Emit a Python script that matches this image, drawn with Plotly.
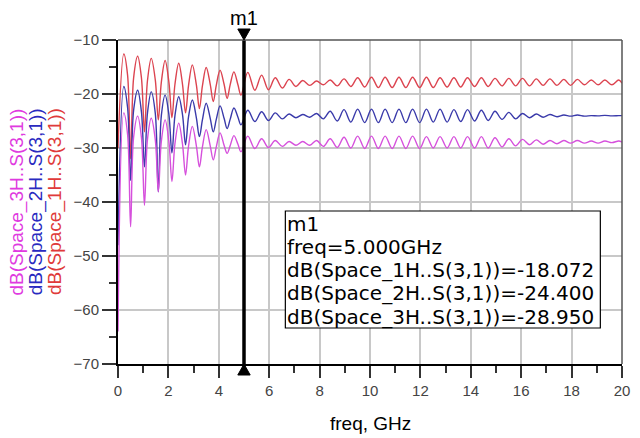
import plotly.graph_objects as go

# frequencies (GHz) of the points (peaks, shoulders, dips), shared by all traces
freq = [0.0, 0.23, 0.38, 0.50, 0.62, 0.78, 0.93, 1.05, 1.17, 1.32, 1.48, 1.60, 1.72, 1.87,
        2.02, 2.14, 2.26, 2.41, 2.56, 2.68, 2.80, 2.95, 3.11, 3.23, 3.35, 3.50, 3.66, 3.78,
        3.90, 4.05, 4.21, 4.33, 4.45, 4.60, 4.76, 4.88,
        5.15, 5.43, 5.70, 5.97, 6.24, 6.52, 6.79, 7.06, 7.33, 7.61, 7.88, 8.15, 8.42, 8.70,
        8.97, 9.24, 9.51, 9.79, 10.06, 10.33, 10.60, 10.88, 11.15, 11.42, 11.69, 11.97, 12.24,
        12.51, 12.78, 13.06, 13.33, 13.60, 13.87, 14.15, 14.42, 14.69, 14.96, 15.24, 15.51,
        15.78, 16.05, 16.33, 16.60, 16.87, 17.14, 17.42, 17.69, 17.96, 18.23, 18.51, 18.78,
        19.05, 19.32, 19.60, 19.87, 20.0]

s1h = [-30.0, -12.6, -16.5, -32.0, -17.0, -13.0, -17.0, -27.0, -17.5, -13.4, -17.4, -24.8,
       -17.8, -13.8, -17.8, -24.4, -18.2, -14.3, -18.2, -23.5, -18.4, -14.6, -18.3, -22.7,
       -18.5, -15.1, -18.2, -21.4, -18.4, -15.6, -18.2, -20.8, -18.3, -15.9, -18.3, -20.2,
       -16.0, -19.3, -16.5, -19.2, -17.0, -18.9, -17.3, -18.6, -17.5, -18.4, -17.6, -18.3,
       -17.4, -18.5, -17.2, -18.6, -17.0, -18.7, -16.9, -18.8, -16.9, -18.8, -16.9, -18.8,
       -16.9, -18.8, -16.9, -18.8, -17.0, -18.7, -17.0, -18.7, -17.0, -18.6, -17.0, -18.6,
       -17.1, -18.5, -17.1, -18.5, -17.1, -18.5, -17.2, -18.4, -17.2, -18.4, -17.3, -18.4,
       -17.3, -18.3, -17.4, -18.3, -17.4, -18.3, -17.4, -18.0]

s2h = [-48.0, -18.6, -22.5, -36.0, -23.0, -19.3, -23.3, -33.5, -23.5, -19.6, -23.6, -38.1,
       -24.0, -20.2, -23.8, -30.9, -24.0, -20.5, -23.8, -29.4, -24.2, -21.1, -24.4, -27.9,
       -24.8, -21.7, -24.5, -27.0, -24.7, -22.2, -24.5, -26.4, -24.7, -22.6, -24.3, -25.7,
       -23.0, -25.1, -23.3, -24.9, -23.5, -24.6, -23.7, -24.4, -23.8, -24.3, -23.6, -24.6,
       -23.2, -25.0, -22.9, -25.2, -22.8, -25.3, -22.8, -25.3, -22.8, -25.3, -22.8, -25.3,
       -22.8, -25.3, -22.8, -25.2, -22.8, -25.2, -22.9, -25.1, -22.9, -25.0, -23.0, -24.9,
       -23.2, -24.7, -23.4, -24.6, -23.6, -24.4, -23.7, -24.3, -23.8, -24.2, -23.9, -24.1,
       -23.9, -24.1, -24.0, -24.05, -23.95, -24.05, -24.0, -24.0]

s3h = [-64.0, -23.5, -27.5, -44.6, -28.0, -24.1, -28.1, -40.6, -28.4, -24.5, -28.5, -38.1,
       -28.8, -24.8, -28.8, -36.2, -29.2, -25.4, -29.3, -35.0, -29.6, -26.0, -29.6, -33.5,
       -29.8, -26.6, -29.6, -32.2, -29.8, -27.2, -29.5, -31.0, -29.6, -27.7, -29.3, -30.7,
       -27.8, -30.1, -28.3, -29.9, -28.6, -29.7, -28.8, -29.5, -28.8, -29.5, -28.6, -29.7,
       -28.3, -29.9, -28.0, -30.0, -27.8, -30.1, -27.8, -30.1, -27.8, -30.1, -27.8, -30.1,
       -27.8, -30.1, -27.9, -30.0, -27.9, -30.0, -27.9, -30.0, -27.9, -30.0, -27.9, -30.0,
       -28.1, -29.8, -28.3, -29.6, -28.4, -29.4, -28.5, -29.3, -28.6, -29.2, -28.6, -29.1,
       -28.6, -29.1, -28.7, -29.1, -28.7, -29.0, -28.7, -28.9]

assert len(freq) == len(s1h) == len(s2h) == len(s3h), (len(freq), len(s1h), len(s2h), len(s3h))

x_ticks = [0, 2, 4, 6, 8, 10, 12, 14, 16, 18, 20]
y_ticks = [-10, -20, -30, -40, -50, -60, -70]

marker_freq = 5.0
readout = ["m1", "freq=5.000GHz",
           "dB(Space_1H..S(3,1))=-18.072",
           "dB(Space_2H..S(3,1))=-24.400",
           "dB(Space_3H..S(3,1))=-28.950"]
ytitles = ["dB(Space_3H..S(3,1))", "dB(Space_2H..S(3,1))", "dB(Space_1H..S(3,1))"]
ytitle_colors = ["#e03ae0", "#2a2ac0", "#e03a3a"]

RED, BLUE, MAG = "#dc4450", "#3a3aaa", "#d650dc"
FONT = "Liberation Sans, Arial, sans-serif"
READ_FONT = "DejaVu Sans, Liberation Sans, sans-serif"

fig = go.Figure()
for vals, col in [(s1h, RED), (s2h, BLUE), (s3h, MAG)]:
    fig.add_trace(go.Scatter(x=freq, y=vals, mode="lines",
                             line=dict(color=col, width=1.4, shape="spline", smoothing=1.0),
                             showlegend=False, hoverinfo="skip"))

# marker line
fig.add_trace(go.Scatter(x=[marker_freq, marker_freq], y=[-10, -70], mode="lines",
                         line=dict(color="black", width=3.5), showlegend=False, hoverinfo="skip"))

W, H = 640, 438
L, R, T, B = 118, 10, 40, 74
pw, ph = W - L - R, H - T - B

def px(xp):
    return (xp - L) / pw

def py(yp):
    return (H - B - yp) / ph

ann = []
ann.append(dict(x=marker_freq, xref="x", y=py(18), yref="paper", text="m1", showarrow=False,
                font=dict(family=FONT, size=20, color="black"), xanchor="center", yanchor="middle"))
for xp, t, c in zip([15, 35, 54], ytitles, ytitle_colors):
    ann.append(dict(x=px(xp), y=py(202), xref="paper", yref="paper", text=t, textangle=-90,
                    showarrow=False, font=dict(family=FONT, size=19, color=c),
                    xanchor="center", yanchor="middle"))
for i, t in enumerate(readout):
    ann.append(dict(x=px(289), y=py(223.5 + 23.3 * i), xref="paper", yref="paper", text=t,
                    showarrow=False, font=dict(family=READ_FONT, size=20, color="black"),
                    xanchor="left", yanchor="middle", borderpad=0))
ann.append(dict(x=0.5, y=py(423), xref="paper", yref="paper", text="freq, GHz", showarrow=False,
                font=dict(family=FONT, size=19, color="black"), xanchor="center", yanchor="middle"))

dx = 6.3 / pw * 20
tri_h = 11 / ph
shapes = [
    dict(type="rect", xref="paper", yref="paper", x0=px(288), x1=px(608), y0=py(211), y1=py(328),
         line=dict(color="black", width=1.2), fillcolor="white", layer="above"),
    dict(type="line", xref="paper", yref="paper", x0=0, x1=1, y0=1, y1=1,
         line=dict(color="#555555", width=1.5)),
    dict(type="line", xref="paper", yref="paper", x0=1, x1=1, y0=0, y1=1,
         line=dict(color="#555555", width=1.5)),
    dict(type="path", xref="x", yref="paper",
         path=f"M {marker_freq - dx},{1 + tri_h} L {marker_freq + dx},{1 + tri_h} L {marker_freq},1 Z",
         fillcolor="black", line=dict(color="black", width=1)),
    dict(type="path", xref="x", yref="paper",
         path=f"M {marker_freq - dx},{-tri_h} L {marker_freq + dx},{-tri_h} L {marker_freq},0 Z",
         fillcolor="black", line=dict(color="black", width=1)),
]

fig.update_layout(
    width=W, height=H, margin=dict(l=L, r=R, t=T, b=B),
    paper_bgcolor="white", plot_bgcolor="white",
    font=dict(family=FONT, size=15, color="#444444"),
    annotations=ann, shapes=shapes,
    xaxis=dict(range=[0, 20], tickvals=x_ticks, ticks="outside", ticklen=12, tickwidth=1.5,
               tickcolor="#333333", showline=True, linecolor="black", linewidth=2,
               showgrid=True, gridcolor="#c8c8c8", gridwidth=1.5, zeroline=False,
               minor=dict(dtick=1, ticks="outside", ticklen=7, tickcolor="#333333", showgrid=False),
               tickfont=dict(size=15, color="#444444")),
    yaxis=dict(range=[-70, -10], tickvals=y_ticks, ticks="outside", ticklen=14, tickwidth=1.5,
               tickcolor="#333333", showline=True, linecolor="black", linewidth=2,
               showgrid=True, gridcolor="#c8c8c8", gridwidth=1.5, zeroline=False,
               minor=dict(dtick=5, ticks="outside", ticklen=7, tickcolor="#333333", showgrid=False),
               tickfont=dict(size=15, color="#444444")),
)

fig.write_html("out.html")
